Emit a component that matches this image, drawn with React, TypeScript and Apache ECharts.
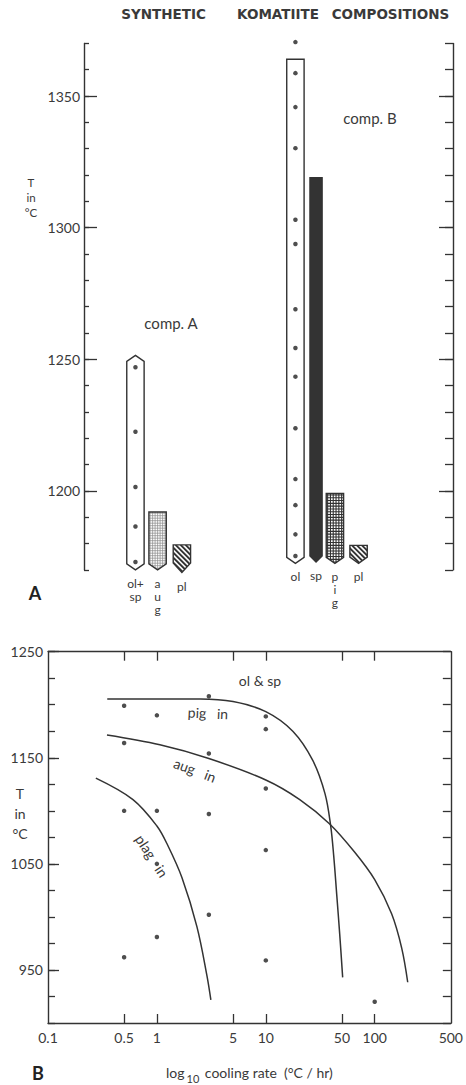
import React, { useEffect, useRef } from 'react';
import * as echarts from 'echarts';

// ---------- Title ----------
const titleWords = ['SYNTHETIC', 'KOMATIITE', 'COMPOSITIONS'];

// ---------- Panel A : crystallization intervals (T in °C) ----------
const columnNames = ['ol+sp', 'aug', 'pl', 'ol', 'sp', 'pig', 'pl'];
const columnLabels = ['ol+\nsp', 'a\nu\ng', 'pl', 'ol', 'sp', 'p\ni\ng', 'pl'];
const columnSlot = [2.37, 3.39, 4.51, 9.74, 10.69, 11.56, 12.65];
const columnTop = [1251.5, 1192, 1179.5, 1364, 1319, 1199, 1179.3];
const columnBottom = [1170, 1170, 1169, 1172.5, 1173, 1172.5, 1172.5];
const columnFill = ['open', 'stipple', 'hatch', 'open', 'solid', 'cross', 'hatch'];
const columnShape = ['hex', 'point', 'shield', 'point', 'point', 'point', 'shield'];

const compADotsT = [1247, 1222.5, 1201.5, 1186.5, 1173];
const compBDotsT = [1370.5, 1358.7, 1345.8, 1330.2, 1303, 1293.8, 1269, 1254.3, 1243.4, 1223.8, 1204.5, 1194.6, 1183.5, 1175.3];
const tempTicksA = [1200, 1250, 1300, 1350];

// ---------- Panel B : T vs cooling rate ----------
const rateTicks = [0.1, 0.5, 1, 5, 10, 50, 100, 500];
const rateMinorTicks = [0.5, 1, 5, 10, 50, 100];
const expRate = [0.5, 1, 3, 10, 10, 0.5, 3, 10, 0.5, 1, 3, 10, 1, 3, 1, 0.5, 10, 100];
const expT = [1199, 1190, 1208, 1189, 1177, 1164, 1154, 1121, 1100, 1100, 1097, 1063, 1050, 1002, 981, 962, 959, 920];
const pigInRate = [0.35, 2.5, 5, 10, 17.7, 27, 35, 39.4, 42, 44.8, 47.7, 50.8];
const pigInT = [1205.5, 1205.5, 1203, 1193.5, 1175, 1147.5, 1116, 1086, 1058, 1021, 984, 943];
const augInRate = [0.348, 1.065, 3, 10, 20.5, 38.6, 65.6, 100, 143, 177, 201];
const augInT = [1171.4, 1162.2, 1149.3, 1129.1, 1110.6, 1087.6, 1060.9, 1035.1, 1002.9, 970.6, 938.4];
const plagInRate = [0.275, 0.603, 1, 1.26, 1.7, 2.33, 2.88, 3.13];
const plagInT = [1130.8, 1110.6, 1085.7, 1067.3, 1036.9, 990.8, 944.7, 921.7];
const tempTicksB = [950, 1050, 1150, 1250];

const INK = '#333';
const TXT = '#3a3a3a';
const FONT = 'Lato, "Noto Sans", sans-serif';
const lg = (v: number) => Math.log10(v);
const fmtRate = (v: number) => String(Number(Math.pow(10, v).toPrecision(3)));
const fmtT = (v: number) => String(Math.round(v));

function renderColumn(params: any, api: any) {
  const i = api.value(3);
  const slot = api.value(0);
  const topPt = api.coord([slot, api.value(1)]);
  const botPt = api.coord([slot, api.value(2)]);
  const cx = topPt[0];
  const yt = topPt[1];
  const yb = botPt[1];
  const fill = columnFill[i];
  const shape = columnShape[i];
  const hw = api.size([fill === 'solid' ? 0.56 : 0.8, 0])[0] / 2;
  const tip = 6;
  let pts: number[][];
  if (shape === 'hex') {
    pts = [[cx, yt], [cx + hw, yt + tip], [cx + hw, yb - tip], [cx, yb], [cx - hw, yb - tip], [cx - hw, yt + tip]];
  } else if (shape === 'shield') {
    const t = (yb - yt) * 0.35;
    pts = [[cx - hw, yt], [cx + hw, yt], [cx + hw, yb - t], [cx, yb], [cx - hw, yb - t]];
  } else {
    pts = [[cx - hw, yt], [cx + hw, yt], [cx + hw, yb - tip], [cx, yb], [cx - hw, yb - tip]];
  }
  const x0 = cx - hw;
  const x1 = cx + hw;
  const children: any[] = [];
  children.push({
    type: 'polygon',
    shape: { points: pts },
    style: { fill: fill === 'solid' ? INK : '#fff', stroke: 'none' },
  });
  const pat: any[] = [];
  if (fill === 'stipple') {
    for (let y = yt + 1.2; y < yb; y += 2.5) {
      pat.push({ type: 'line', shape: { x1: x0, y1: y, x2: x1, y2: y }, style: { stroke: '#8a8a8a', lineWidth: 0.7 } });
    }
    for (let x = x0 + 1.2; x < x1; x += 2.5) {
      pat.push({ type: 'line', shape: { x1: x, y1: yt, x2: x, y2: yb }, style: { stroke: '#8a8a8a', lineWidth: 0.7 } });
    }
  } else if (fill === 'cross') {
    for (let y = yt + 1.4; y < yb; y += 2.8) {
      pat.push({ type: 'line', shape: { x1: x0, y1: y, x2: x1, y2: y }, style: { stroke: '#333', lineWidth: 1.1 } });
    }
    for (let x = x0 + 1.4; x < x1; x += 2.8) {
      pat.push({ type: 'line', shape: { x1: x, y1: yt, x2: x, y2: yb }, style: { stroke: '#333', lineWidth: 1.1 } });
    }
  } else if (fill === 'hatch') {
    const h = yb - yt;
    for (let s = x0 - h; s < x1 + 2; s += 5) {
      pat.push({ type: 'line', shape: { x1: s, y1: yt, x2: s + h, y2: yb }, style: { stroke: '#333', lineWidth: 1.9 } });
    }
  }
  if (pat.length) {
    children.push({ type: 'group', children: pat, clipPath: { type: 'polygon', shape: { points: pts } } });
  }
  children.push({
    type: 'polygon',
    shape: { points: pts },
    style: { fill: 'none', stroke: INK, lineWidth: 1.4, lineJoin: 'miter' },
  });
  children.push({
    type: 'text',
    x: cx,
    y: yb + 7,
    style: {
      text: columnLabels[i],
      align: 'center',
      verticalAlign: 'top',
      fontSize: 12,
      lineHeight: 13,
      fontFamily: FONT,
      fill: TXT,
    },
  });
  return { type: 'group', children };
}

const axisLineStyle = { onZero: false, lineStyle: { color: INK, width: 1.4 } };

function buildOption(): any {
  const colData = columnSlot.map((s, i) => [s, columnTop[i], columnBottom[i], i]);
  const dotsA = [
    ...compADotsT.map((t) => [columnSlot[0], t]),
    ...compBDotsT.map((t) => [columnSlot[3], t]),
  ];
  const expData = expRate.map((r, i) => [lg(r), expT[i]]);
  const curve = (rs: number[], ts: number[]) => rs.map((r, i) => [lg(r), ts[i]]);
  const lineStyle = { color: INK, width: 1.5 };
  const textBase = { fontFamily: FONT, fill: TXT, align: 'center', verticalAlign: 'middle' };

  return {
    animation: false,
    backgroundColor: '#fff',
    textStyle: { fontFamily: FONT },
    grid: [
      { left: 84, right: 13, top: 43.4, height: 526.5 },
      { left: 48, right: 15, top: 651.7, height: 380 },
    ],
    xAxis: [
      { gridIndex: 0, type: 'value', min: 0, max: 17, show: false },
      {
        gridIndex: 1,
        type: 'value',
        position: 'bottom',
        min: lg(rateTicks[0]),
        max: lg(rateTicks[rateTicks.length - 1]),
        axisLine: axisLineStyle,
        axisTick: { inside: true, length: 9, customValues: rateMinorTicks.map(lg), lineStyle: { color: INK, width: 1.3 } },
        axisLabel: {
          customValues: rateTicks.map(lg),
          formatter: (v: number) => fmtRate(v),
          fontSize: 14,
          color: TXT,
          margin: 7,
          fontFamily: FONT,
        },
        splitLine: { show: false },
        name: 'log{sub|10} cooling rate  (°C / hr)',
        nameLocation: 'middle',
        nameGap: 38,
        nameTextStyle: {
          fontSize: 14,
          color: TXT,
          fontFamily: FONT,
          rich: { sub: { fontSize: 11, color: TXT, fontFamily: FONT, padding: [12, 2, 0, 2] } },
        },
      },
      {
        gridIndex: 1,
        type: 'value',
        position: 'top',
        min: lg(rateTicks[0]),
        max: lg(rateTicks[rateTicks.length - 1]),
        axisLine: axisLineStyle,
        axisTick: { inside: true, length: 9, customValues: rateMinorTicks.map(lg), lineStyle: { color: INK, width: 1.3 } },
        axisLabel: { show: false },
        splitLine: { show: false },
      },
    ],
    yAxis: [
      {
        gridIndex: 0, type: 'value', position: 'left', min: 1170, max: 1370, interval: 10,
        axisLine: { show: true, ...axisLineStyle },
        axisTick: { inside: true, length: 5, lineStyle: { color: INK, width: 1.3 } },
        axisLabel: { show: false }, splitLine: { show: false },
      },
      {
        gridIndex: 0, type: 'value', position: 'left', min: 1170, max: 1370,
        axisLine: { show: false, onZero: false },
        axisTick: { show: true, inside: true, length: 13, customValues: tempTicksA, lineStyle: { color: INK, width: 1.3 } },
        axisLabel: { customValues: tempTicksA, formatter: fmtT, fontSize: 14, color: TXT, margin: 4, fontFamily: FONT },
        splitLine: { show: false },
      },
      {
        gridIndex: 0, type: 'value', position: 'right', min: 1170, max: 1370, interval: 10,
        axisLine: { show: true, ...axisLineStyle },
        axisTick: { inside: true, length: 8, lineStyle: { color: INK, width: 1.3 } },
        axisLabel: { show: false }, splitLine: { show: false },
      },
      {
        gridIndex: 0, type: 'value', position: 'right', min: 1170, max: 1370,
        axisLine: { show: false, onZero: false },
        axisTick: { show: true, inside: true, length: 14, customValues: tempTicksA, lineStyle: { color: INK, width: 1.3 } },
        axisLabel: { show: false }, splitLine: { show: false },
      },
      {
        gridIndex: 1, type: 'value', position: 'left', min: 900, max: 1250, interval: 25,
        axisLine: { show: true, ...axisLineStyle },
        axisTick: { inside: true, length: 7, lineStyle: { color: INK, width: 1.3 } },
        axisLabel: { customValues: tempTicksB, formatter: fmtT, fontSize: 14, color: TXT, margin: 5, fontFamily: FONT },
        splitLine: { show: false },
      },
      {
        gridIndex: 1, type: 'value', position: 'left', min: 900, max: 1250,
        axisLine: { show: false, onZero: false },
        axisTick: { show: true, inside: true, length: 11, customValues: tempTicksB, lineStyle: { color: INK, width: 1.3 } },
        axisLabel: { show: false }, splitLine: { show: false },
      },
      {
        gridIndex: 1, type: 'value', position: 'right', min: 900, max: 1250, interval: 25,
        axisLine: { show: true, ...axisLineStyle },
        axisTick: { inside: true, length: 8, lineStyle: { color: INK, width: 1.3 } },
        axisLabel: { show: false }, splitLine: { show: false },
      },
    ],
    series: [
      {
        type: 'custom',
        name: 'columns',
        xAxisIndex: 0,
        yAxisIndex: 0,
        clip: false,
        renderItem: renderColumn,
        data: colData,
        encode: { x: 0, y: [1, 2] },
        z: 2,
      },
      {
        type: 'scatter',
        name: 'experiments A',
        xAxisIndex: 0,
        yAxisIndex: 0,
        clip: false,
        symbolSize: 4.5,
        itemStyle: { color: '#222' },
        data: dotsA,
        z: 5,
      },
      {
        type: 'line', name: 'pig in', xAxisIndex: 1, yAxisIndex: 4, showSymbol: false,
        smooth: 0.35, lineStyle, data: curve(pigInRate, pigInT),
      },
      {
        type: 'line', name: 'aug in', xAxisIndex: 1, yAxisIndex: 4, showSymbol: false,
        smooth: 0.35, lineStyle, data: curve(augInRate, augInT),
      },
      {
        type: 'line', name: 'plag in', xAxisIndex: 1, yAxisIndex: 4, showSymbol: false,
        smooth: 0.35, lineStyle, data: curve(plagInRate, plagInT),
      },
      {
        type: 'scatter', name: 'experiments B', xAxisIndex: 1, yAxisIndex: 4,
        symbolSize: 4.5, itemStyle: { color: '#222' }, data: expData, z: 5,
      },
    ],
    graphic: [
      { type: 'text', x: 163.5, y: 14, style: { ...textBase, text: titleWords[0], fontSize: 13.5, fontWeight: 'bold', fontFamily: '"DejaVu Sans", sans-serif' } },
      { type: 'text', x: 278, y: 14, style: { ...textBase, text: titleWords[1], fontSize: 13.5, fontWeight: 'bold', fontFamily: '"DejaVu Sans", sans-serif' } },
      { type: 'text', x: 390.5, y: 14, style: { ...textBase, text: titleWords[2], fontSize: 13.5, fontWeight: 'bold', fontFamily: '"DejaVu Sans", sans-serif' } },
      { type: 'text', x: 31, y: 197, style: { ...textBase, text: 'T\nin\n°C', fontSize: 11.5, lineHeight: 15 } },
      { type: 'text', x: 171, y: 323, style: { ...textBase, text: 'comp. A', fontSize: 15 } },
      { type: 'text', x: 370, y: 118, style: { ...textBase, text: 'comp. B', fontSize: 15 } },
      { type: 'text', x: 35, y: 593, style: { ...textBase, text: 'A', fontSize: 18, fontWeight: 'bold', fill: '#222' } },
      { type: 'text', x: 38, y: 1073, style: { ...textBase, text: 'B', fontSize: 18, fontWeight: 'bold', fill: '#222' } },
      { type: 'text', x: 20, y: 813, style: { ...textBase, text: 'T\nin\n°C', fontSize: 14, lineHeight: 20 } },
      { type: 'text', x: 260, y: 680, style: { ...textBase, text: 'ol & sp', fontSize: 14 } },
      { type: 'text', x: 208, y: 713, rotation: -0.05, style: { ...textBase, text: 'pig   in', fontSize: 14 } },
      { type: 'text', x: 195, y: 770, rotation: -0.36, style: { ...textBase, text: 'aug   in', fontSize: 14 } },
      { type: 'text', x: 152, y: 856, rotation: -1.0, style: { ...textBase, text: 'plag   in', fontSize: 14 } },
    ],
  };
}

export default function App() {
  const ref = useRef<HTMLDivElement>(null);
  useEffect(() => {
    if (!ref.current) return;
    const chart = echarts.init(ref.current, null, { renderer: 'svg' });
    chart.setOption(buildOption());
    return () => chart.dispose();
  }, []);
  return (
    <div
      ref={ref}
      style={{ position: 'absolute', left: 0, top: 0, width: 466, height: 1085, background: '#fff' }}
    />
  );
}
